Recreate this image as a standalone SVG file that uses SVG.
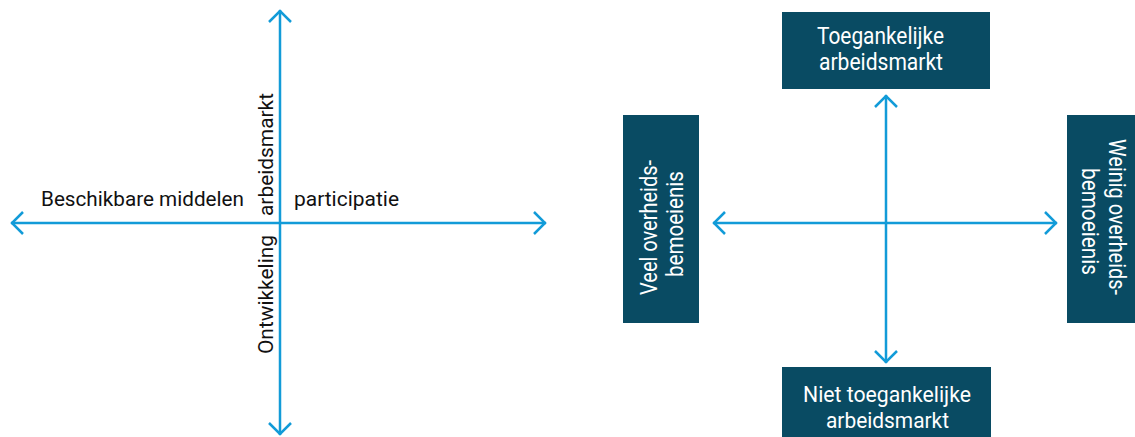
<svg xmlns="http://www.w3.org/2000/svg" width="1135" height="437" viewBox="0 0 1135 437">
<style>
.ax{stroke:#129bd8;stroke-width:2.5;fill:none}
.box{fill:#094b63}
.lbl{font-family:Roboto,"Liberation Sans",sans-serif;font-size:21px;fill:#111}
.bt{font-family:Roboto,"Liberation Sans",sans-serif;font-size:23px;fill:#ffffff;text-anchor:middle}
.bs{font-size:22px}
</style>
<defs>
<marker id="chev" markerUnits="userSpaceOnUse" markerWidth="30" markerHeight="30" viewBox="-15 -15 30 30" refX="0" refY="0" orient="auto-start-reverse">
<path d="M-12,-11 L-1,0 L-12,11" fill="none" stroke="#129bd8" stroke-width="2.5"/>
</marker>
</defs>
<rect width="1135" height="437" fill="#ffffff"/>
<g id="connectors">
<line class="ax" x1="11" y1="223" x2="546" y2="223" marker-start="url(#chev)" marker-end="url(#chev)"/>
<line class="ax" x1="280" y1="10" x2="280" y2="435" marker-start="url(#chev)" marker-end="url(#chev)"/>
<line class="ax" x1="713" y1="223" x2="1057" y2="223" marker-start="url(#chev)" marker-end="url(#chev)"/>
<line class="ax" x1="886" y1="95" x2="886" y2="363" marker-start="url(#chev)" marker-end="url(#chev)"/>
</g>
<g id="label-beschikbare">
<text class="lbl" x="41" y="206" textLength="203" lengthAdjust="spacingAndGlyphs">Beschikbare middelen</text>
</g>
<g id="label-participatie">
<text class="lbl" x="294" y="206" textLength="105" lengthAdjust="spacingAndGlyphs">participatie</text>
</g>
<g id="label-arbeidsmarkt">
<text class="lbl" transform="translate(273,216) rotate(-90)" x="0" y="0" textLength="123" lengthAdjust="spacingAndGlyphs">arbeidsmarkt</text>
</g>
<g id="label-ontwikkeling">
<text class="lbl" transform="translate(273,354) rotate(-90)" x="0" y="0" textLength="119" lengthAdjust="spacingAndGlyphs">Ontwikkeling</text>
</g>
<g id="node-toegankelijk">
<rect class="box" x="782" y="12" width="208" height="77"/>
<text class="bt" x="880.5" y="44" textLength="127" lengthAdjust="spacingAndGlyphs">Toegankelijke</text>
<text class="bt" x="881" y="70" textLength="124" lengthAdjust="spacingAndGlyphs">arbeidsmarkt</text>
</g>
<g id="node-niet-toegankelijk">
<rect class="box" x="782" y="367" width="209" height="70"/>
<text class="bt bs" x="887" y="402" textLength="168" lengthAdjust="spacingAndGlyphs">Niet toegankelijke</text>
<text class="bt bs" x="887.5" y="428" textLength="123" lengthAdjust="spacingAndGlyphs">arbeidsmarkt</text>
</g>
<g id="node-veel">
<rect class="box" x="623" y="115" width="76" height="208"/>
<text class="bt" transform="translate(657,227.5) rotate(-90)" x="0" y="0" textLength="135" lengthAdjust="spacingAndGlyphs">Veel overheids-</text>
<text class="bt" transform="translate(683,224) rotate(-90)" x="0" y="0" textLength="106" lengthAdjust="spacingAndGlyphs">bemoeienis</text>
</g>
<g id="node-weinig">
<rect class="box" x="1067" y="115" width="68" height="208"/>
<text class="bt" transform="translate(1109,217) rotate(90)" x="0" y="0" textLength="156" lengthAdjust="spacingAndGlyphs">Weinig overheids-</text>
<text class="bt" transform="translate(1082,221.5) rotate(90)" x="0" y="0" textLength="107" lengthAdjust="spacingAndGlyphs">bemoeienis</text>
</g>
</svg>
